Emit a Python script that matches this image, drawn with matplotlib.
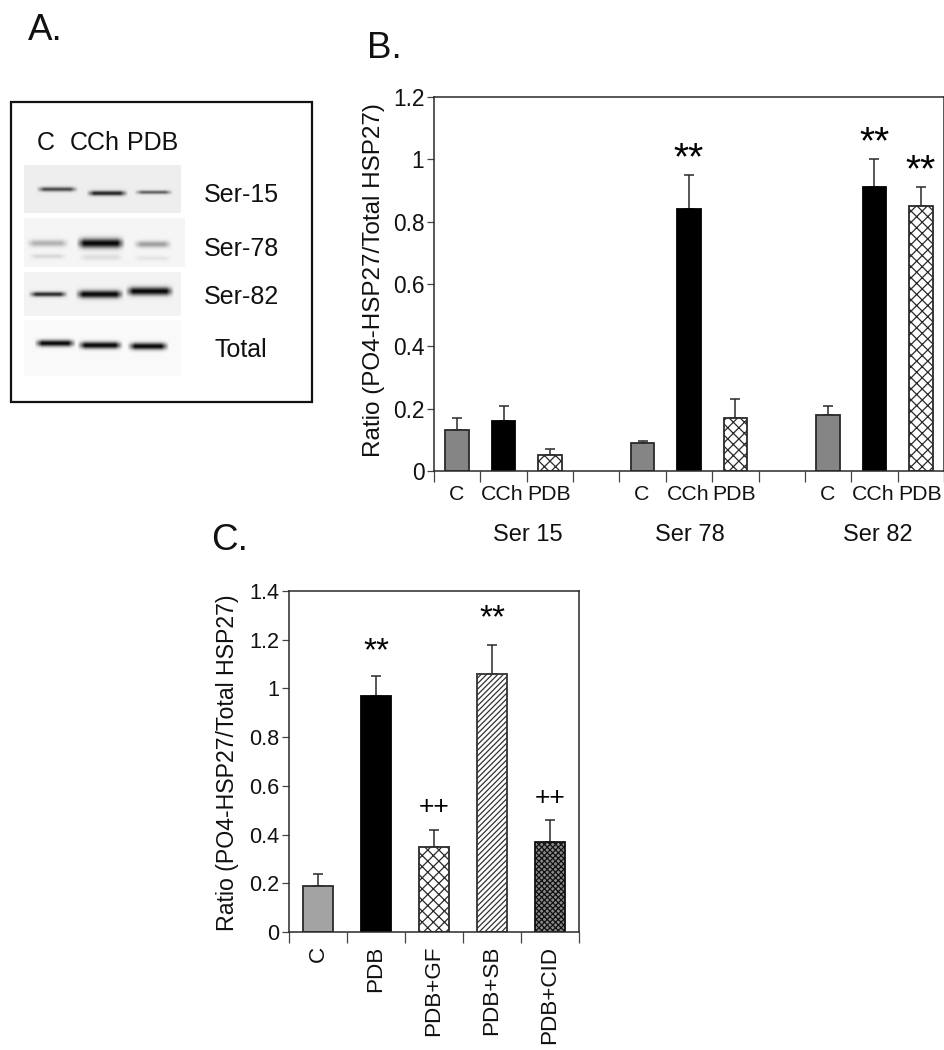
import numpy as np
import matplotlib
matplotlib.use("Agg")
import matplotlib.pyplot as plt
from matplotlib.patches import Rectangle

plt.rcParams['font.family'] = ['Liberation Sans', 'DejaVu Sans']
plt.rcParams['hatch.linewidth'] = 0.9

W, H = 945, 1050

# Panel B data
b_labels = ['C', 'CCh', 'PDB', '', 'C', 'CCh', 'PDB', '', 'C', 'CCh', 'PDB']
b_values = [0.13, 0.16, 0.05, None, 0.09, 0.84, 0.17, None, 0.18, 0.91, 0.85]
b_upper = [0.17, 0.21, 0.07, None, 0.095, 0.95, 0.23, None, 0.21, 1.0, 0.91]
b_kinds = ['gray', 'black', 'cross', None, 'gray', 'black', 'cross', None, 'gray', 'black', 'cross']
b_stars = {5: 1.0, 9: 1.05, 10: 0.96}
b_groups = ['Ser 15', 'Ser 78', 'Ser 82']
b_yticks = [0, 0.2, 0.4, 0.6, 0.8, 1, 1.2]

# Panel C data
c_labels = ['C', 'PDB', 'PDB+GF', 'PDB+SB', 'PDB+CID']
c_values = [0.19, 0.97, 0.35, 1.06, 0.37]
c_upper = [0.24, 1.05, 0.42, 1.18, 0.46]
c_kinds = ['lgray', 'black', 'cross', 'diag', 'dense']
c_marks = {1: ('**', 1.15), 2: ('++', 0.512), 3: ('**', 1.285), 4: ('++', 0.552)}
c_yticks = [0, 0.2, 0.4, 0.6, 0.8, 1, 1.2, 1.4]

# Panel A blot: (name, x0, x1, y0, y1, background, bands)
# band = (left, right, centre y, half thickness, darkness) in picture pixels
blots = [
    ('Ser-15', 24, 181, 165, 213, 0.90,
     [(36, 78, 189, 2.2, 0.72), (86, 128, 193, 2.4, 0.88), (134, 173, 192, 1.8, 0.62)]),
    ('Ser-78', 24, 185, 218, 267, 0.93,
     [(26, 69, 243, 3.4, 0.28), (76, 125, 243, 4.6, 1.0), (133, 172, 244, 3.2, 0.36),
      (28, 67, 256, 2.4, 0.12), (78, 124, 257, 3.0, 0.10), (133, 172, 258, 2.4, 0.07)]),
    ('Ser-82', 24, 181, 272, 316, 0.92,
     [(28, 68, 294, 2.4, 0.85), (75, 124, 294, 3.8, 1.0), (125, 174, 291, 4.0, 1.0)]),
    ('Total', 24, 181, 320, 376, 0.95,
     [(34, 76, 343, 3.2, 1.0), (77, 123, 345, 3.4, 1.0), (127, 169, 346, 3.4, 1.0)]),
]
lane_labels = [('C', 46), ('CCh', 95), ('PDB', 153)]
DK = '#2a2a2a'
TXT = '#111111'


def axes_px(fig, x0, y0, x1, y1):
    return fig.add_axes([x0 / W, 1 - y1 / H, (x1 - x0) / W, (y1 - y0) / H])


def ftext(fig, x, y, s, **kw):
    kw.setdefault('color', TXT)
    kw.setdefault('ha', 'center')
    kw.setdefault('va', 'center')
    return fig.text(x / W, 1 - y / H, s, **kw)


def draw_bar(ax, x, v, up, kind):
    style = {
        'gray': dict(facecolor='#858585', edgecolor=DK),
        'lgray': dict(facecolor='#a3a3a3', edgecolor=DK),
        'black': dict(facecolor='#000000', edgecolor='#000000'),
        'cross': dict(facecolor='white', edgecolor=DK, hatch='xxx'),
        'diag': dict(facecolor='white', edgecolor='#333333', hatch='//////'),
        'dense': dict(facecolor='#8a8a8a', edgecolor='#111111', hatch='xxxxxx'),
    }[kind]
    ax.bar(x, v, width=0.51, linewidth=1.3, zorder=2, **style)
    ax.errorbar(x, v, yerr=[[0], [up - v]], color=DK, capsize=3.5,
                elinewidth=1.1, capthick=1.1, zorder=1)


def style_axes(ax, yticks, n, size):
    ax.set_xlim(0, n)
    ax.set_yticks(yticks)
    ax.set_yticklabels([f'{t:g}' for t in yticks], fontsize=size, color=TXT)
    ax.set_xticks(np.arange(n + 1))
    ax.set_xticklabels([])
    ax.tick_params(axis='x', length=8, width=0.9, color='#444444')
    ax.tick_params(axis='y', length=5, width=0.9, color='#444444', pad=2)
    for s in ax.spines.values():
        s.set_linewidth(1.1)
        s.set_color(DK)


fig = plt.figure(figsize=(W / 100, H / 100), dpi=100, facecolor='white')

# ---- Panel A
fig.add_artist(Rectangle((11 / W, 1 - 402 / H), 301 / W, 300 / H, transform=fig.transFigure,
                         facecolor='white', edgecolor='#111111', linewidth=1.6, zorder=-1))
for name, x0, x1, y0, y1, bg, bands in blots:
    xs = np.arange(x0, x1, 0.5)
    ys = np.arange(y0, y1, 0.5)
    X, Y = np.meshgrid(xs, ys)
    img = np.zeros_like(X)
    for left, right, yc, half, dark in bands:
        across = np.clip((X - left) / 8, 0, 1) * np.clip((right - X) / 8, 0, 1)
        img += dark * across * np.exp(-((Y - yc) / half) ** 2)
    ax = axes_px(fig, x0, y0, x1, y1)
    ax.imshow(bg * (1 - np.clip(img, 0, 1)) + 0.03, cmap='gray', vmin=0, vmax=1,
              aspect='auto', interpolation='bilinear')
    ax.axis('off')
    yl = {'Ser-15': 195, 'Ser-78': 249, 'Ser-82': 297, 'Total': 350}[name]
    ftext(fig, 241, yl, name, fontsize=18)
for s, x in lane_labels:
    ftext(fig, x, 143, s, fontsize=18)

# ---- Panel B
axb = axes_px(fig, 434, 97, 944, 471)
for i, (v, up, k) in enumerate(zip(b_values, b_upper, b_kinds)):
    if v is not None:
        draw_bar(axb, i + 0.5, v, up, k)
axb.set_ylim(0, 1.2)
style_axes(axb, b_yticks, len(b_labels), 16.4)
axb.set_ylabel('Ratio (PO4-HSP27/Total HSP27)', fontsize=17.5, color=TXT)
axb.yaxis.set_label_coords(-0.096, 0.51)
for i, lab in enumerate(b_labels):
    axb.annotate(lab, (i + 0.5, 0), xytext=(-1, -23), textcoords='offset pixels',
                 xycoords=('data', 'axes fraction'), ha='center', va='center',
                 fontsize=15.3, color=TXT)
for i, y in b_stars.items():
    axb.text(i + 0.5, y, '**', ha='center', va='center', fontsize=28, color='black')
for s, x in zip(b_groups, [528, 690, 878]):
    ftext(fig, x, 535, s, fontsize=17)

# ---- Panel C
axc = axes_px(fig, 289, 591, 579, 932)
for i, (v, up, k) in enumerate(zip(c_values, c_upper, c_kinds)):
    draw_bar(axc, i + 0.5, v, up, k)
axc.set_ylim(0, 1.4)
style_axes(axc, c_yticks, len(c_labels), 15.6)
axc.set_ylabel('Ratio (PO4-HSP27/Total HSP27)', fontsize=16.7, color=TXT)
axc.yaxis.set_label_coords(-0.172, 0.495)
for i, lab in enumerate(c_labels):
    axc.annotate(lab, (i + 0.5, 0), xytext=(0, -14), textcoords='offset pixels',
                 xycoords=('data', 'axes fraction'), ha='center', va='top',
                 rotation=90, fontsize=16.2, color=TXT)
for i, (s, y) in c_marks.items():
    axc.text(i + 0.5, y, s, ha='center', va='center', color='black',
             fontsize=24 if s == '**' else 19)

# Panel letters
ftext(fig, 45, 31, 'A.', fontsize=26.5)
ftext(fig, 384, 49, 'B.', fontsize=26.5)
ftext(fig, 230, 541, 'C.', fontsize=26.5)

fig.savefig('out.png', dpi=100, facecolor='white')
